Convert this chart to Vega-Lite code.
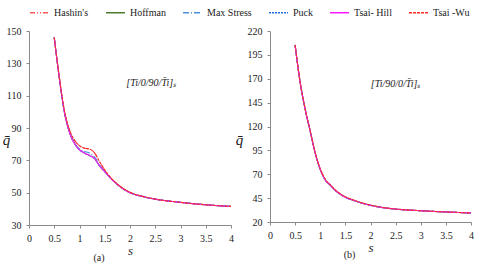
{
  "$schema": "https://vega.github.io/schema/vega-lite/v6.json",
  "padding": {"left": 2, "top": 2, "right": 4, "bottom": 0},
  "spacing": 1,
  "config": {
    "font": "Liberation Serif",
    "view": {"stroke": null},
    "axis": {
      "grid": false,
      "domainColor": "#8a8a8a",
      "tickColor": "#8a8a8a",
      "tickSize": 3,
      "labelFont": "Liberation Serif",
      "labelFontSize": 10,
      "labelColor": "#222222",
      "labelPadding": 5,
      "titleFont": "Liberation Serif",
      "titleFontStyle": "italic",
      "titleFontWeight": "normal",
      "titleColor": "#222222"
    },
    "legend": {
      "orient": "top",
      "columns": 6,
      "columnPadding": 14,
      "symbolType": "stroke",
      "symbolSize": 360,
      "symbolStrokeWidth": 1.5,
      "labelFont": "Liberation Serif",
      "labelFontSize": 10,
      "labelColor": "#222222",
      "labelLimit": 100,
      "padding": 0,
      "offset": 8
    },
    "title": {"font": "Liberation Serif", "fontSize": 10, "fontWeight": "normal", "color": "#222222"}
  },
  "datasets": {
    "a": [
      {"s": 0.5, "Hashin": 146, "Hoffman": 146, "Max Stress": 146, "Puck": 146, "Tsai- Hill": 146, "Tsai -Wu": 146},
      {"s": 0.6, "Hashin": 121.5, "Hoffman": 121, "Max Stress": 121, "Puck": 121, "Tsai- Hill": 121, "Tsai -Wu": 121.5},
      {"s": 0.7, "Hashin": 101, "Hoffman": 100, "Max Stress": 100, "Puck": 100, "Tsai- Hill": 100, "Tsai -Wu": 101},
      {"s": 0.8, "Hashin": 89, "Hoffman": 87.5, "Max Stress": 88, "Puck": 87.5, "Tsai- Hill": 87.5, "Tsai -Wu": 89},
      {"s": 0.9, "Hashin": 82.5, "Hoffman": 80.5, "Max Stress": 81, "Puck": 80.5, "Tsai- Hill": 80.5, "Tsai -Wu": 82.5},
      {"s": 1.0, "Hashin": 79, "Hoffman": 76.5, "Max Stress": 77, "Puck": 76.5, "Tsai- Hill": 76.5, "Tsai -Wu": 79},
      {"s": 1.1, "Hashin": 77.5, "Hoffman": 74.5, "Max Stress": 75.5, "Puck": 74.5, "Tsai- Hill": 74.5, "Tsai -Wu": 77.5},
      {"s": 1.2, "Hashin": 77, "Hoffman": 73, "Max Stress": 74.5, "Puck": 73, "Tsai- Hill": 73, "Tsai -Wu": 77},
      {"s": 1.3, "Hashin": 74.5, "Hoffman": 71, "Max Stress": 72, "Puck": 71, "Tsai- Hill": 71, "Tsai -Wu": 74.5},
      {"s": 1.4, "Hashin": 69, "Hoffman": 66.5, "Max Stress": 67, "Puck": 66.5, "Tsai- Hill": 66.5, "Tsai -Wu": 69},
      {"s": 1.5, "Hashin": 64, "Hoffman": 63, "Max Stress": 63.2, "Puck": 63, "Tsai- Hill": 63, "Tsai -Wu": 64},
      {"s": 1.6, "Hashin": 60, "Hoffman": 59.5, "Max Stress": 59.5, "Puck": 59.5, "Tsai- Hill": 59.5, "Tsai -Wu": 60},
      {"s": 1.8, "Hashin": 54, "Hoffman": 53.8, "Max Stress": 53.8, "Puck": 53.8, "Tsai- Hill": 53.8, "Tsai -Wu": 54},
      {"s": 2.0, "Hashin": 50.2, "Hoffman": 50, "Max Stress": 50, "Puck": 50, "Tsai- Hill": 50, "Tsai -Wu": 50.2},
      {"s": 2.25, "Hashin": 47.7, "Hoffman": 47.6, "Max Stress": 47.6, "Puck": 47.6, "Tsai- Hill": 47.6, "Tsai -Wu": 47.7},
      {"s": 2.5, "Hashin": 46, "Hoffman": 46, "Max Stress": 46, "Puck": 46, "Tsai- Hill": 46, "Tsai -Wu": 46},
      {"s": 3.0, "Hashin": 44, "Hoffman": 44, "Max Stress": 44, "Puck": 44, "Tsai- Hill": 44, "Tsai -Wu": 44},
      {"s": 3.5, "Hashin": 42.5, "Hoffman": 42.5, "Max Stress": 42.5, "Puck": 42.5, "Tsai- Hill": 42.5, "Tsai -Wu": 42.5},
      {"s": 4.0, "Hashin": 41.5, "Hoffman": 41.5, "Max Stress": 41.5, "Puck": 41.5, "Tsai- Hill": 41.5, "Tsai -Wu": 41.5}
    ],
    "b": [
      {"s": 0.5, "Hashin": 205.5, "Hoffman": 205, "Max Stress": 205, "Puck": 205, "Tsai- Hill": 205, "Tsai -Wu": 205.5},
      {"s": 0.6, "Hashin": 166.5, "Hoffman": 166, "Max Stress": 166, "Puck": 166, "Tsai- Hill": 166, "Tsai -Wu": 166.5},
      {"s": 0.7, "Hashin": 138.5, "Hoffman": 138, "Max Stress": 138, "Puck": 138, "Tsai- Hill": 138, "Tsai -Wu": 138.5},
      {"s": 0.8, "Hashin": 115.5, "Hoffman": 115, "Max Stress": 115, "Puck": 115, "Tsai- Hill": 115, "Tsai -Wu": 115.5},
      {"s": 0.9, "Hashin": 92.7, "Hoffman": 92, "Max Stress": 92, "Puck": 92, "Tsai- Hill": 92, "Tsai -Wu": 92.7},
      {"s": 1.0, "Hashin": 75.7, "Hoffman": 75, "Max Stress": 75, "Puck": 75, "Tsai- Hill": 75, "Tsai -Wu": 75.7},
      {"s": 1.1, "Hashin": 64.7, "Hoffman": 64, "Max Stress": 64, "Puck": 64, "Tsai- Hill": 64, "Tsai -Wu": 64.7},
      {"s": 1.2, "Hashin": 59, "Hoffman": 58.5, "Max Stress": 58.5, "Puck": 58.5, "Tsai- Hill": 58.5, "Tsai -Wu": 59},
      {"s": 1.3, "Hashin": 53.5, "Hoffman": 53, "Max Stress": 53, "Puck": 53, "Tsai- Hill": 53, "Tsai -Wu": 53.5},
      {"s": 1.4, "Hashin": 49.4, "Hoffman": 49, "Max Stress": 49, "Puck": 49, "Tsai- Hill": 49, "Tsai -Wu": 49.4},
      {"s": 1.5, "Hashin": 46.4, "Hoffman": 46, "Max Stress": 46, "Puck": 46, "Tsai- Hill": 46, "Tsai -Wu": 46.4},
      {"s": 1.7, "Hashin": 42.3, "Hoffman": 42, "Max Stress": 42, "Puck": 42, "Tsai- Hill": 42, "Tsai -Wu": 42.3},
      {"s": 2.0, "Hashin": 37.7, "Hoffman": 37.5, "Max Stress": 37.5, "Puck": 37.5, "Tsai- Hill": 37.5, "Tsai -Wu": 37.7},
      {"s": 2.25, "Hashin": 35.2, "Hoffman": 35, "Max Stress": 35, "Puck": 35, "Tsai- Hill": 35, "Tsai -Wu": 35.2},
      {"s": 2.5, "Hashin": 33.6, "Hoffman": 33.5, "Max Stress": 33.5, "Puck": 33.5, "Tsai- Hill": 33.5, "Tsai -Wu": 33.6},
      {"s": 3.0, "Hashin": 31.8, "Hoffman": 31.8, "Max Stress": 31.8, "Puck": 31.8, "Tsai- Hill": 31.8, "Tsai -Wu": 31.8},
      {"s": 3.5, "Hashin": 30.5, "Hoffman": 30.5, "Max Stress": 30.5, "Puck": 30.5, "Tsai- Hill": 30.5, "Tsai -Wu": 30.5},
      {"s": 4.0, "Hashin": 29.5, "Hoffman": 29.5, "Max Stress": 29.5, "Puck": 29.5, "Tsai- Hill": 29.5, "Tsai -Wu": 29.5}
    ]
  },
  "hconcat": [
    {
      "width": 202,
      "height": 194,
      "title": {"text": "(a)", "orient": "bottom", "dx": -31, "offset": -4},
      "encoding": {
        "x": {"field": "s", "type": "quantitative", "scale": {"domain": [0, 4], "nice": false},
          "axis": {"values": [0, 0.5, 1, 1.5, 2, 2.5, 3, 3.5, 4], "format": "~g", "labelOverlap": false, "labelFlush": false, "title": "s", "titleFontSize": 13, "titlePadding": 1}},
        "y": {"field": "q", "type": "quantitative", "scale": {"domain": [30, 150], "nice": false, "zero": false},
          "axis": {"values": [30, 50, 70, 90, 110, 130, 150], "labelOverlap": false, "labelFlush": false, "title": "q̄", "titleAngle": 0, "titleX": -23, "titleY": 108, "titleAlign": "center", "titleBaseline": "middle", "titleFontSize": 15}}
      },
      "layer": [
        {
          "data": {"name": "a"},
          "transform": [{"fold": ["Hashin", "Hoffman", "Max Stress", "Puck", "Tsai- Hill", "Tsai -Wu"], "as": ["series", "q"]}],
          "mark": {"type": "line", "strokeWidth": 1.1, "interpolate": "monotone"},
          "encoding": {
            "color": {"field": "series", "type": "nominal",
              "legend": {"title": null, "labelExpr": "datum.label == 'Hashin' ? \"Hashin's\" : datum.label"},
              "scale": {"domain": ["Hashin", "Hoffman", "Max Stress", "Puck", "Tsai- Hill", "Tsai -Wu"],
                        "range": ["#ff5a5a", "#4e7a2e", "#4a90d9", "#1f6fe0", "#ff1aff", "#ff2a2a"]}},
            "strokeDash": {"field": "series", "type": "nominal",
              "legend": {"title": null, "labelExpr": "datum.label == 'Hashin' ? \"Hashin's\" : datum.label"},
              "scale": {"domain": ["Hashin", "Hoffman", "Max Stress", "Puck", "Tsai- Hill", "Tsai -Wu"],
                        "range": [[5, 2, 1, 2, 1, 2], [1, 0], [6, 2, 1, 2], [2, 1], [1, 0], [3, 1]]}}
          }
        },
        {
          "data": {"values": [{"s": 2.42, "q": 118, "label": "[Ti/0/90/T̄i]ₛ"}]},
          "mark": {"type": "text", "font": "Liberation Serif", "fontStyle": "italic", "fontSize": 10, "color": "#222222"},
          "encoding": {"text": {"field": "label"}}
        }
      ]
    },
    {
      "width": 201,
      "height": 191,
      "title": {"text": "(b)", "orient": "bottom", "dx": -21, "offset": -4},
      "encoding": {
        "x": {"field": "s", "type": "quantitative", "scale": {"domain": [0, 4], "nice": false},
          "axis": {"values": [0, 0.5, 1, 1.5, 2, 2.5, 3, 3.5, 4], "format": "~g", "labelOverlap": false, "labelFlush": false, "title": "s", "titleFontSize": 13, "titlePadding": 1}},
        "y": {"field": "q", "type": "quantitative", "scale": {"domain": [20, 220], "nice": false, "zero": false},
          "axis": {"values": [20, 45, 70, 95, 120, 145, 170, 195, 220], "labelOverlap": false, "labelFlush": false, "title": "q̄", "titleAngle": 0, "titleX": -31, "titleY": 108, "titleAlign": "center", "titleBaseline": "middle", "titleFontSize": 15}}
      },
      "layer": [
        {
          "data": {"name": "b"},
          "transform": [{"fold": ["Hashin", "Hoffman", "Max Stress", "Puck", "Tsai- Hill", "Tsai -Wu"], "as": ["series", "q"]}],
          "mark": {"type": "line", "strokeWidth": 1.1, "interpolate": "monotone"},
          "encoding": {
            "color": {"field": "series", "type": "nominal", "legend": {"title": null, "labelExpr": "datum.label == 'Hashin' ? \"Hashin's\" : datum.label"}},
            "strokeDash": {"field": "series", "type": "nominal", "legend": {"title": null, "labelExpr": "datum.label == 'Hashin' ? \"Hashin's\" : datum.label"}}
          }
        },
        {
          "data": {"values": [{"s": 2.5, "q": 165, "label": "[Ti/90/0/T̄i]ₛ"}]},
          "mark": {"type": "text", "font": "Liberation Serif", "fontStyle": "italic", "fontSize": 10, "color": "#222222"},
          "encoding": {"text": {"field": "label"}}
        }
      ]
    }
  ],
  "resolve": {"scale": {"color": "shared", "strokeDash": "shared"}}
}
